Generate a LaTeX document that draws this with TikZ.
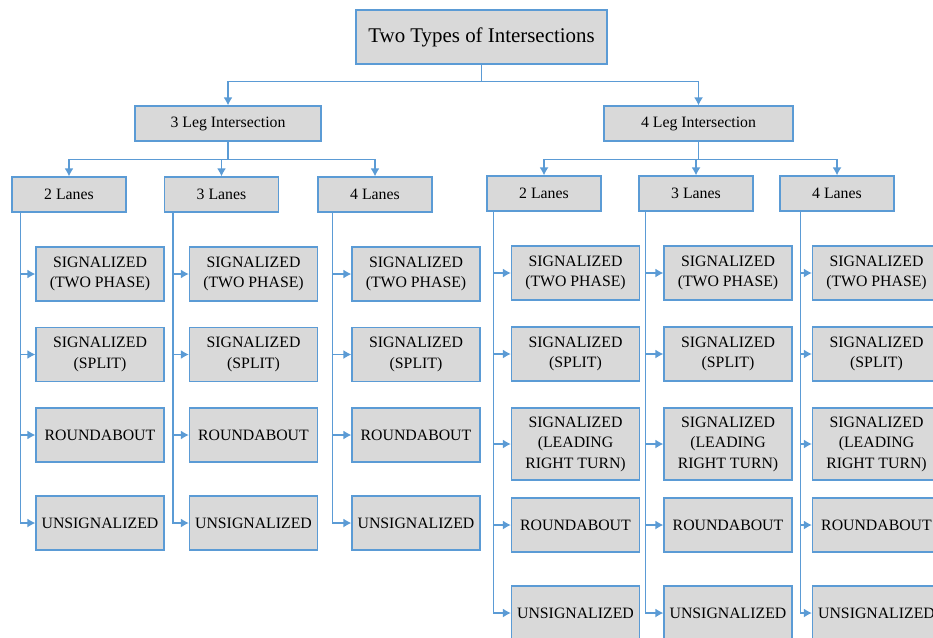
\documentclass[tikz,border=0pt]{standalone}
\usepackage{fontspec}
\setmainfont{Liberation Serif}
\usetikzlibrary{arrows.meta}
\definecolor{lineblue}{RGB}{91,155,213}
\definecolor{boxgray}{RGB}{217,217,217}
\begin{document}
\begin{tikzpicture}[x=1pt, y=-1pt,
  box/.style={draw=lineblue, fill=boxgray, line width=1.3pt, inner sep=0pt, align=center, font=\fontsize{15.8}{20.5}\selectfont},
  leaf/.style={box, minimum width=128pt, minimum height=54pt},
  lane/.style={box, minimum width=114pt, minimum height=35pt},
  arr/.style={draw=lineblue, line width=1.3pt, -{Latex[length=8pt,width=9pt]}}]
\useasboundingbox (0,0) rectangle (933,637);
\node[box, minimum width=251pt, minimum height=54pt, font=\fontsize{20.9}{25}\selectfont] (top) at (481.5,37){Two Types of Intersections};
\node[box, minimum width=186pt, minimum height=35pt] (leg3) at (228,123.5){3 Leg Intersection};
\node[box, minimum width=189pt, minimum height=35pt] (leg4) at (698.5,123.5){4 Leg Intersection};
\draw[arr](top.south) -- ++(0,17) -| (leg3.north);
\draw[arr](top.south) -- ++(0,17) -| (leg4.north);
\node[lane] (a2) at (69,194.5){2 Lanes};
\node[lane] (a3) at (221.5,194.5){3 Lanes};
\node[lane] (a4) at (375,194.5){4 Lanes};
\draw[arr](leg3.south) -- ++(0,18) -| (a2.north);
\draw[arr](leg3.south) -- ++(0,18) -| (a3.north);
\draw[arr](leg3.south) -- ++(0,18) -| (a4.north);
\node[lane] (b2) at (544,193.5){2 Lanes};
\node[lane] (b3) at (696,193.5){3 Lanes};
\node[lane] (b4) at (837,193.5){4 Lanes};
\draw[arr](leg4.south) -- ++(0,18) -| (b2.north);
\draw[arr](leg4.south) -- ++(0,18) -| (b3.north);
\draw[arr](leg4.south) -- ++(0,18) -| (b4.north);

\node[leaf] (a2tp) at (100,274){SIGNALIZED\\(TWO PHASE)};
\node[leaf] (a2sp) at (100,354.5){SIGNALIZED\\(SPLIT)};
\node[leaf] (a2rb) at (100,435){ROUNDABOUT};
\node[leaf] (a2un) at (100,523){UNSIGNALIZED};
\draw[arr](a2.south west) ++(9,0) |- (a2tp.west);
\draw[arr](a2.south west) ++(9,0) |- (a2sp.west);
\draw[arr](a2.south west) ++(9,0) |- (a2rb.west);
\draw[arr](a2.south west) ++(9,0) |- (a2un.west);
\node[leaf] (a3tp) at (253.5,274){SIGNALIZED\\(TWO PHASE)};
\node[leaf] (a3sp) at (253.5,354.5){SIGNALIZED\\(SPLIT)};
\node[leaf] (a3rb) at (253.5,435){ROUNDABOUT};
\node[leaf] (a3un) at (253.5,523){UNSIGNALIZED};
\draw[arr](a3.south west) ++(9,0) |- (a3tp.west);
\draw[arr](a3.south west) ++(9,0) |- (a3sp.west);
\draw[arr](a3.south west) ++(9,0) |- (a3rb.west);
\draw[arr](a3.south west) ++(9,0) |- (a3un.west);
\node[leaf] (a4tp) at (416,274){SIGNALIZED\\(TWO PHASE)};
\node[leaf] (a4sp) at (416,354.5){SIGNALIZED\\(SPLIT)};
\node[leaf] (a4rb) at (416,435){ROUNDABOUT};
\node[leaf] (a4un) at (416,523){UNSIGNALIZED};
\draw[arr](a4.south west) ++(15,0) |- (a4tp.west);
\draw[arr](a4.south west) ++(15,0) |- (a4sp.west);
\draw[arr](a4.south west) ++(15,0) |- (a4rb.west);
\draw[arr](a4.south west) ++(15,0) |- (a4un.west);

\node[leaf] (b2tp) at (575.5,273){SIGNALIZED\\(TWO PHASE)};
\node[leaf] (b2sp) at (575.5,354){SIGNALIZED\\(SPLIT)};
\node[leaf, minimum height=72pt] (b2lr) at (575.5,444){SIGNALIZED\\(LEADING\\RIGHT TURN)};
\node[leaf] (b2rb) at (575.5,525){ROUNDABOUT};
\node[leaf] (b2un) at (575.5,613){UNSIGNALIZED};
\draw[arr](b2.south west) ++(7,0) |- (b2tp.west);
\draw[arr](b2.south west) ++(7,0) |- (b2sp.west);
\draw[arr](b2.south west) ++(7,0) |- (b2lr.west);
\draw[arr](b2.south west) ++(7,0) |- (b2rb.west);
\draw[arr](b2.south west) ++(7,0) |- (b2un.west);
\node[leaf] (b3tp) at (728,273){SIGNALIZED\\(TWO PHASE)};
\node[leaf] (b3sp) at (728,354){SIGNALIZED\\(SPLIT)};
\node[leaf, minimum height=72pt] (b3lr) at (728,444){SIGNALIZED\\(LEADING\\RIGHT TURN)};
\node[leaf] (b3rb) at (728,525){ROUNDABOUT};
\node[leaf] (b3un) at (728,613){UNSIGNALIZED};
\draw[arr](b3.south west) ++(7,0) |- (b3tp.west);
\draw[arr](b3.south west) ++(7,0) |- (b3sp.west);
\draw[arr](b3.south west) ++(7,0) |- (b3lr.west);
\draw[arr](b3.south west) ++(7,0) |- (b3rb.west);
\draw[arr](b3.south west) ++(7,0) |- (b3un.west);
\node[leaf] (b4tp) at (876.5,273){SIGNALIZED\\(TWO PHASE)};
\node[leaf] (b4sp) at (876.5,354){SIGNALIZED\\(SPLIT)};
\node[leaf, minimum height=72pt] (b4lr) at (876.5,444){SIGNALIZED\\(LEADING\\RIGHT TURN)};
\node[leaf] (b4rb) at (876.5,525){ROUNDABOUT};
\node[leaf] (b4un) at (876.5,613){UNSIGNALIZED};
\draw[arr](b4.south west) ++(21,0) |- (b4tp.west);
\draw[arr](b4.south west) ++(21,0) |- (b4sp.west);
\draw[arr](b4.south west) ++(21,0) |- (b4lr.west);
\draw[arr](b4.south west) ++(21,0) |- (b4rb.west);
\draw[arr](b4.south west) ++(21,0) |- (b4un.west);

\end{tikzpicture}
\end{document}
